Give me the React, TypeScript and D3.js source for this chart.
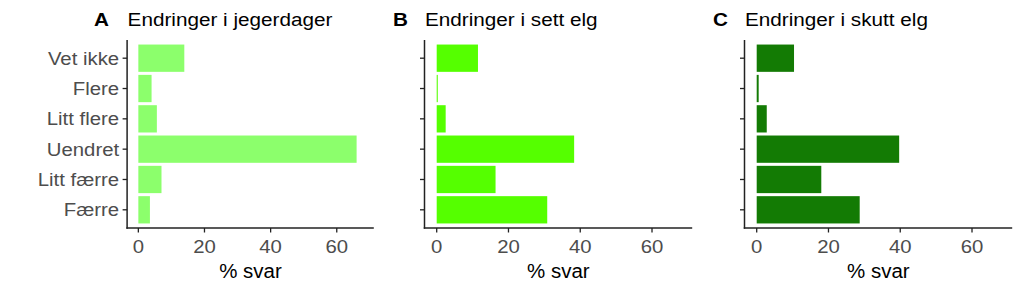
import React from "react";
import * as d3 from "d3";

const categories = ["Vet ikke", "Flere", "Litt flere", "Uendret", "Litt færre", "Færre"];
const jegerdager = [13.9, 4.0, 5.6, 66.0, 7.0, 3.5];
const settElg = [11.5, 0.3, 2.5, 38.3, 16.4, 30.8];
const skuttElg = [10.4, 0.55, 2.8, 39.7, 18.0, 28.7];
const xTicks = [0, 20, 40, 60];
const panelLetters = ["A", "B", "C"];
const panelTitles = ["Endringer i jegerdager", "Endringer i sett elg", "Endringer i skutt elg"];
const panelColors = ["#8cff6c", "#55ff00", "#137b04"];
const xLabel = "% svar";

const FONT = "'Liberation Sans', Arial, Helvetica, sans-serif";

const panels = [
  { values: jegerdager, left: 127.1, right: 373.8, letterX: 94 },
  { values: settElg, left: 424.5, right: 692.2, letterX: 393 },
  { values: skuttElg, left: 744.5, right: 1012.2, letterX: 713 },
];

const top = 40;
const bottom = 228;

function Panel({ idx }: { idx: number }) {
  const p = panels[idx];
  const x = d3.scaleLinear().domain([-3.4, 71.2]).range([p.left, p.right]);
  const y = d3
    .scaleBand<string>()
    .domain(categories)
    .range([top, bottom])
    .paddingInner(0.1)
    .paddingOuter(0.15);
  const axisColor = "#222";
  const tickColor = "#4d4d4d";
  return (
    <g>
      {/* title */}
      <text
        transform={`translate(${p.letterX},26) scale(1.09,1)`}
        fontFamily={FONT}
        fontWeight="bold"
        fontSize={19}
        fill="#000"
      >
        {panelLetters[idx]}
      </text>
      <text
        transform={`translate(${p.left + 0.5},26) scale(1.09,1)`}
        fontFamily={FONT}
        fontSize={19}
        fill="#000"
      >
        {panelTitles[idx]}
      </text>
      {/* bars */}
      {p.values.map((v, i) => (
        <rect
          key={i}
          x={x(0)}
          y={y(categories[i])}
          width={Math.max(0, x(v) - x(0))}
          height={y.bandwidth()}
          fill={panelColors[idx]}
        />
      ))}
      {/* axes */}
      <line x1={p.left} x2={p.left} y1={top} y2={bottom + 0.75} stroke={axisColor} strokeWidth={1.5} />
      <line x1={p.left - 0.75} x2={p.right} y1={bottom} y2={bottom} stroke={axisColor} strokeWidth={1.5} />
      {categories.map((c) => {
        const cy = (y(c) as number) + y.bandwidth() / 2;
        return (
          <g key={c}>
            <line x1={p.left - 4.5} x2={p.left} y1={cy} y2={cy} stroke={axisColor} strokeWidth={1.3} />
            {idx === 0 && (
              <text
                transform={`translate(${p.left - 8},${cy + 6.4}) scale(1.13,1)`}
                textAnchor="end"
                fontFamily={FONT}
                fontSize={18}
                fill={tickColor}
              >
                {c}
              </text>
            )}
          </g>
        );
      })}
      {xTicks.map((t) => (
        <g key={t}>
          <line x1={x(t)} x2={x(t)} y1={bottom} y2={bottom + 4.5} stroke={axisColor} strokeWidth={1.3} />
          <text
            transform={`translate(${x(t)},253.3) scale(1.13,1)`}
            textAnchor="middle"
            fontFamily={FONT}
            fontSize={18}
            fill={tickColor}
          >
            {t}
          </text>
        </g>
      ))}
      <text
        transform={`translate(${(p.left + p.right) / 2},278.3) scale(1.05,1)`}
        textAnchor="middle"
        fontFamily={FONT}
        fontSize={19.5}
        fill="#000"
      >
        {xLabel}
      </text>
    </g>
  );
}

export default function App() {
  return (
    <svg
      width={1024}
      height={292}
      style={{ position: "absolute", left: 0, top: 0, background: "#fff" }}
    >
      <rect width={1024} height={292} fill="#fff" />
      {panels.map((_, i) => (
        <Panel key={i} idx={i} />
      ))}
    </svg>
  );
}
